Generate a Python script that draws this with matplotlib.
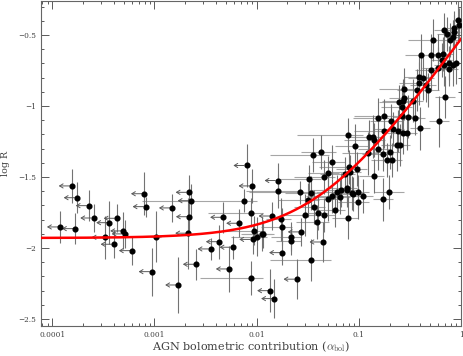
import numpy as np
import matplotlib
matplotlib.use("Agg")
import matplotlib.pyplot as plt
from matplotlib.ticker import FuncFormatter, LogLocator, MultipleLocator

plt.rcParams['font.family'] = ['DejaVu Serif']
plt.rcParams['mathtext.fontset'] = 'cm'

# detections: log10(alpha_bol), log R, y error, x error (dex, low / high side)
det_logx = [-2.983, -2.119, -2.056, -2.054, -2.021, -1.998, -1.949, -1.933, -1.787, -1.760,
            -1.754, -1.663, -1.663, -1.575, -1.487, -1.493, -1.470, -1.526, -1.435, -1.411,
            -1.445, -1.369, -1.470, -1.401, -1.337, -1.259, -1.337, -1.298, -1.304, -1.265,
            -1.232, -1.216, -1.183, -1.134, -1.118, -1.108, -1.063, -1.083, -1.105, -1.034,
            -1.092, -1.020, -0.897, -0.858, -0.848, -0.809, -0.750, -0.688, -0.766, -0.809,
            -0.694, -0.629, -0.597, -0.727, -0.678, -0.912, -0.750, -0.662, -0.613, -0.570,
            -0.531, -0.580, -0.515, -0.450, -0.401, -0.218, -0.154, -0.570, -0.603, -0.555,
            -0.472, -0.580, -0.555, -0.427, -0.320, -0.345, -0.408, -0.408, -0.369, -0.296,
            -0.228, -0.394, -0.293, -0.222, -0.179, -0.189, -0.166, -0.117, -0.081, -0.049,
            -0.114, -0.271, -0.108, -0.166, -0.134, -0.081, -0.068, -0.066, -0.026, -0.017,
            -0.851, -0.704, -0.766, -1.174, -1.118, -1.053, -1.004, -0.961, -1.004]
det_logr = [-1.920, -1.667, -1.751, -2.213, -1.878, -1.920, -1.901, -1.901, -1.596, -1.798,
            -1.850, -1.920, -1.953, -1.608, -1.514, -1.662, -1.615, -1.768, -1.713, -1.817,
            -1.345, -1.322, -2.085, -1.751, -1.765, -1.396, -1.498, -1.470, -1.657, -1.632,
            -1.732, -1.604, -1.639, -1.481, -1.592, -1.787, -1.615, -1.463, -1.202, -1.280,
            -1.427, -1.446, -1.216, -1.216, -1.242, -1.087, -1.070, -1.104, -1.338, -1.303,
            -1.322, -1.275, -1.275, -1.380, -1.380, -1.333, -1.176, -1.164, -1.176, -1.188,
            -1.188, -1.070, -1.075, -1.082, -1.157, -1.106, -0.935, -0.963, -0.974, -0.946,
            -0.963, -1.005, -0.882, -0.887, -0.887, -0.852, -0.840, -0.794, -0.805, -0.746,
            -0.735, -0.641, -0.641, -0.641, -0.636, -0.676, -0.711, -0.699, -0.711, -0.695,
            -0.739, -0.535, -0.535, -0.465, -0.495, -0.512, -0.453, -0.481, -0.394, -0.430,
            -1.493, -1.604, -1.657, -1.592, -1.580, -1.622, -1.604, -1.632, -1.674]
det_yerr = [0.18, 0.08, 0.10, 0.12, 0.10, 0.14, 0.12, 0.10, 0.12, 0.15,
            0.13, 0.10, 0.10, 0.08, 0.10, 0.12, 0.12, 0.15, 0.12, 0.12,
            0.12, 0.12, 0.15, 0.12, 0.12, 0.12, 0.12, 0.12, 0.15, 0.12,
            0.12, 0.12, 0.12, 0.12, 0.12, 0.15, 0.12, 0.12, 0.12, 0.15,
            0.12, 0.12, 0.12, 0.15, 0.12, 0.14, 0.12, 0.12, 0.12, 0.15,
            0.12, 0.18, 0.15, 0.12, 0.12, 0.15, 0.12, 0.12, 0.15, 0.15,
            0.12, 0.12, 0.15, 0.12, 0.15, 0.18, 0.15, 0.15, 0.12, 0.15,
            0.15, 0.15, 0.15, 0.15, 0.12, 0.12, 0.15, 0.15, 0.15, 0.15,
            0.15, 0.15, 0.15, 0.15, 0.12, 0.12, 0.15, 0.12, 0.15, 0.15,
            0.12, 0.15, 0.12, 0.12, 0.12, 0.12, 0.12, 0.12, 0.15, 0.12,
            0.12, 0.12, 0.15, 0.12, 0.12, 0.12, 0.12, 0.12, 0.12]
det_xlo = [0.05, 1.00, 0.42, 0.50, 0.30, 0.25, 0.20, 0.20, 0.32, 0.15,
           0.20, 0.20, 0.15, 0.50, 0.30, 0.30, 0.25, 0.20, 0.20, 0.20,
           0.42, 0.20, 0.40, 0.15, 0.20, 0.20, 0.30, 0.20, 0.20, 0.25,
           0.20, 0.20, 0.30, 0.25, 0.25, 0.15, 0.20, 0.20, 0.50, 0.20,
           0.30, 0.20, 0.20, 0.20, 0.30, 0.25, 0.30, 0.20, 0.20, 0.20,
           0.15, 0.15, 0.15, 0.15, 0.10, 0.25, 0.30, 0.20, 0.20, 0.15,
           0.15, 0.20, 0.15, 0.15, 0.10, 0.10, 0.10, 0.20, 0.20, 0.15,
           0.15, 0.20, 0.25, 0.20, 0.15, 0.15, 0.20, 0.15, 0.15, 0.15,
           0.15, 0.15, 0.10, 0.10, 0.10, 0.10, 0.10, 0.10, 0.10, 0.10,
           0.10, 0.25, 0.10, 0.10, 0.10, 0.08, 0.10, 0.08, 0.05, 0.05,
           0.15, 0.15, 0.10, 0.30, 0.20, 0.20, 0.20, 0.20, 0.20]
det_xhi = [0.05, 0.12, 0.12, 0.12, 0.10, 0.10, 0.10, 0.10, 0.20, 0.10,
           0.10, 0.10, 0.10, 0.15, 0.12, 0.10, 0.10, 0.10, 0.10, 0.12,
           0.15, 0.15, 0.20, 0.10, 0.10, 0.12, 0.10, 0.10, 0.10, 0.10,
           0.10, 0.12, 0.10, 0.10, 0.10, 0.10, 0.10, 0.10, 0.15, 0.12,
           0.10, 0.10, 0.10, 0.10, 0.10, 0.10, 0.12, 0.12, 0.10, 0.10,
           0.10, 0.10, 0.10, 0.10, 0.10, 0.10, 0.10, 0.10, 0.10, 0.10,
           0.10, 0.10, 0.10, 0.10, 0.10, 0.10, 0.10, 0.10, 0.10, 0.10,
           0.10, 0.10, 0.10, 0.10, 0.10, 0.10, 0.10, 0.10, 0.10, 0.10,
           0.10, 0.10, 0.10, 0.10, 0.10, 0.10, 0.10, 0.08, 0.05, 0.04,
           0.08, 0.10, 0.08, 0.08, 0.08, 0.06, 0.06, 0.06, 0.03, 0.02,
           0.10, 0.15, 0.10, 0.10, 0.10, 0.10, 0.10, 0.10, 0.10]

# upper limits on alpha_bol: log10(alpha_bol), log R, y error
lim_logx = [-3.807, -3.758, -3.922, -3.775, -3.641, -3.596, -3.485, -3.440, -3.397, -3.367,
            -3.303, -3.289, -3.218, -3.100, -3.084, -2.663, -2.643, -2.826, -2.660, -2.667,
            -3.025, -2.765, -2.592, -2.448, -2.367, -2.325, -2.269, -2.233, -2.168, -2.047,
            -2.098, -2.040, -1.851, -1.793, -1.748, -1.865, -1.826, -1.607, -1.565, -1.353]
lim_logr = [-1.563, -1.646, -1.852, -1.864, -1.702, -1.789, -1.925, -1.822, -1.974, -1.791,
            -1.880, -1.901, -2.019, -1.618, -1.709, -1.608, -1.667, -1.718, -1.780, -1.896,
            -2.167, -2.261, -2.115, -2.007, -1.956, -1.784, -2.148, -1.995, -1.826, -1.563,
            -1.419, -1.940, -1.775, -1.525, -2.033, -2.301, -2.357, -2.220, -1.887, -1.958]
lim_yerr = [0.12, 0.11, 0.11, 0.11, 0.11, 0.10, 0.15, 0.15, 0.10, 0.10,
            0.13, 0.10, 0.10, 0.15, 0.07, 0.12, 0.12, 0.10, 0.12, 0.25,
            0.17, 0.20, 0.11, 0.08, 0.12, 0.11, 0.16, 0.08, 0.10, 0.12,
            0.15, 0.10, 0.10, 0.12, 0.09, 0.15, 0.14, 0.14, 0.10, 0.14]

# fit: R = R_host + k * alpha_bol
fit_log_rhost = -1.93
fit_k = 0.285

fig = plt.figure(figsize=(4.63, 3.56), dpi=100)
ax = fig.add_axes([41/463, 30/356, 420/463, 325/356])

dx = 10**np.array(det_logx)
dy = np.array(det_logr)
xerr = [dx - 10**(np.array(det_logx) - np.array(det_xlo)),
        10**(np.array(det_logx) + np.array(det_xhi)) - dx]
ax.errorbar(dx, dy, xerr=xerr, fmt='none', ecolor='0.65', elinewidth=0.8, capsize=0, zorder=1)
ax.errorbar(dx, dy, yerr=det_yerr, fmt='none', ecolor='0.45', elinewidth=0.8, capsize=0, zorder=1)

lx = 10**np.array(lim_logx)
ly = np.array(lim_logr)
ax.errorbar(lx, ly, yerr=lim_yerr, fmt='none', ecolor='0.45', elinewidth=0.8, capsize=0, zorder=1)
for x, y in zip(lx, ly):
    ax.annotate('', xy=(x * 10**-0.13, y), xytext=(x * 10**-0.025, y),
                arrowprops=dict(arrowstyle='->,head_length=0.25,head_width=0.15',
                                color='0.35', lw=0.7, shrinkA=0, shrinkB=0), zorder=2)

ax.plot(dx, dy, 'o', color='black', ms=3.4, zorder=3)
ax.plot(lx, ly, 'o', color='black', ms=3.4, zorder=3)

xx = np.logspace(-4.2, 0, 300)
ax.plot(xx, np.log10(10**fit_log_rhost + fit_k * xx), color='red', lw=1.8, zorder=4)

ax.set_xscale('log')
ax.set_xlim(10**-4.11, 1)
ax.set_ylim(-2.55, -0.26)

ax.xaxis.set_major_locator(LogLocator(base=10, numticks=10))
ax.xaxis.set_minor_locator(LogLocator(base=10, subs=np.arange(2, 10), numticks=20))
ax.xaxis.set_major_formatter(FuncFormatter(lambda v, p: '%g' % v))
ax.yaxis.set_major_locator(MultipleLocator(0.5))
ax.yaxis.set_minor_locator(MultipleLocator(0.1))
ax.yaxis.set_major_formatter(FuncFormatter(lambda v, p: ('%g' % v).replace('-', '\u2212')))

ax.tick_params(which='both', direction='in', top=True, right=True, colors='0.35',
               labelcolor='0.25', labelsize=5.3, width=0.7)
ax.tick_params(which='major', length=5.5, pad=3.5)
ax.tick_params(which='minor', length=2.5)
for s in ax.spines.values():
    s.set_color('0.4')
    s.set_linewidth(0.8)

ax.set_xlabel(r'AGN bolometric contribution ($\alpha_{\rm bol}$)', fontsize=8.1, color='0.25', labelpad=0.5)
ax.set_ylabel('log R', fontsize=6.8, color='0.25', labelpad=6)

fig.savefig('out.png', dpi=100)
